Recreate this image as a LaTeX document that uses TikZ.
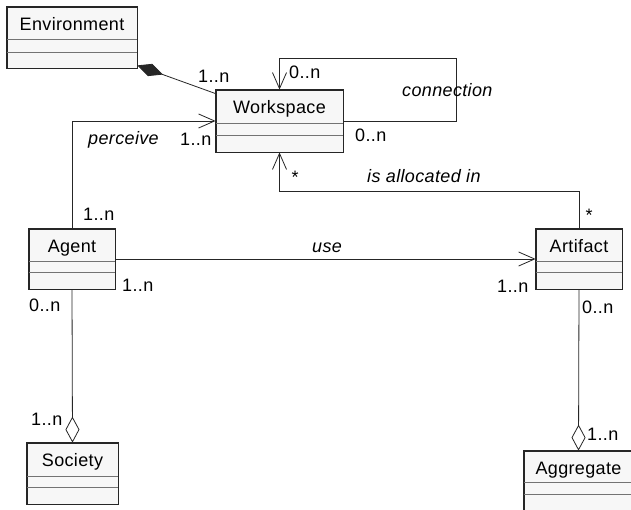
\documentclass[tikz,border=0pt]{standalone}
\usepackage{fontspec}
\setmainfont{Liberation Sans}[LetterSpace=2]
\usetikzlibrary{arrows.meta}

\tikzset{
  classbox/.style={draw=black!85, fill=black!3, line width=0.8pt, inner sep=0pt},
  divider/.style={draw=black!55, line width=0.9pt},
  classname/.style={font=\fontsize{18}{20}\selectfont, inner sep=0pt, anchor=base},
  mult/.style={font=\fontsize{18}{20}\selectfont, inner sep=0pt, anchor=base west},
  role/.style={font=\fontsize{18}{20}\selectfont\itshape, inner sep=0pt, anchor=base west},
  link/.style={draw=black!85, line width=0.8pt},
  navigable/.style={link, -{Straight Barb[length=16pt, width=14pt, line width=0.8pt]}},
  composed/.style={link, {Diamond[length=27pt, width=13pt, fill=black!85]}-},
  aggregated/.style={link, -{Diamond[length=26pt, width=14pt, open, fill=white]}},
}

% class box: node name, x1, y1, x2, y2, first divider, second divider, title
\newcommand\umlclass[8]{%
  \node[classbox, minimum width={#4-#2}, minimum height={#5-#3}]
    (#1) at ({(#2+#4)/2},{(#3+#5)/2}) {};
  \draw[divider] (#1.west |- 0,#6) -- (#1.east |- 0,#6);
  \draw[divider] (#1.west |- 0,#7) -- (#1.east |- 0,#7);
  \draw[draw=black!85, line width=0.8pt] (#1.north west) rectangle (#1.south east);
  \node[classname] (#1-title) at ({(#2+#4)/2},{#3+23.5}) {#8};
}

\begin{document}
\begin{tikzpicture}[x=1pt, y=-1pt]
  \useasboundingbox (0,0) rectangle (631,510);
  \clip (0,0) rectangle (631,510);
  \fill[white] (0,0) rectangle (631,510);

  % classes
  \umlclass{env}{7}{7}{137}{68}{39}{52}{Environment}
  \umlclass{ws}{216}{90}{343}{152}{123}{135}{Workspace}
  \umlclass{agent}{29}{229}{115}{289}{261}{272}{Agent}
  \umlclass{artifact}{536}{229}{622}{289}{261}{272}{Artifact}
  \umlclass{society}{27}{443}{118}{504}{476}{487}{Society}
  \umlclass{aggregate}{524}{451}{633}{512}{482}{494}{Aggregate}

  % Environment is composed of workspaces
  \draw[composed] ([yshift=3pt]env.south east) -- ([yshift=-4pt]ws.north west);
  \node[mult] (m-env) at (198,83) {1..n};

  % connection between workspaces
  \draw[navigable] (ws.east) -- ++(113,0) |- ([yshift=31pt]ws.north) -- (ws.north);
  \node[mult] (m-conn-a) at (289,79) {0..n};
  \node[role] (r-conn) at (402,97) {connection};
  \node[mult] (m-conn-b) at (355,142) {0..n};

  % agents perceive workspaces
  \draw[navigable] (agent.north) |- (ws.west);
  \node[role] (r-perc) at (88,145) {perceive};
  \node[mult] (m-perc-ws) at (180,145.5) {1..n};
  \node[mult] (m-perc-ag) at (83,221) {1..n};

  % artifacts are allocated in workspaces
  \draw[navigable] (artifact.north) -- ++(0,-37) -| (ws.south);
  \node[mult, anchor=base] (m-alloc-ws) at (295,184) {*};
  \node[role] (r-alloc) at (367,183) {is allocated in};
  \node[mult, anchor=base] (m-alloc-art) at (589,222) {*};

  % agents use artifacts
  \draw[navigable] (agent.east) -- (artifact.west);
  \node[role] (r-use) at (312,253) {use};
  \node[mult] (m-use-ag) at (122,291) {1..n};
  \node[mult] (m-use-art) at (497,293) {1..n};

  % societies aggregate agents
  \draw[aggregated] (agent.south) -- (society.north);
  \node[mult] (m-soc-ag) at (29,311) {0..n};
  \node[mult] (m-soc) at (31,425) {1..n};

  % aggregates of artifacts
  \draw[aggregated] (artifact.south) -- (aggregate.north);
  \node[mult] (m-agg-art) at (582,313) {0..n};
  \node[mult] (m-agg) at (587,440) {1..n};
\end{tikzpicture}
\end{document}
